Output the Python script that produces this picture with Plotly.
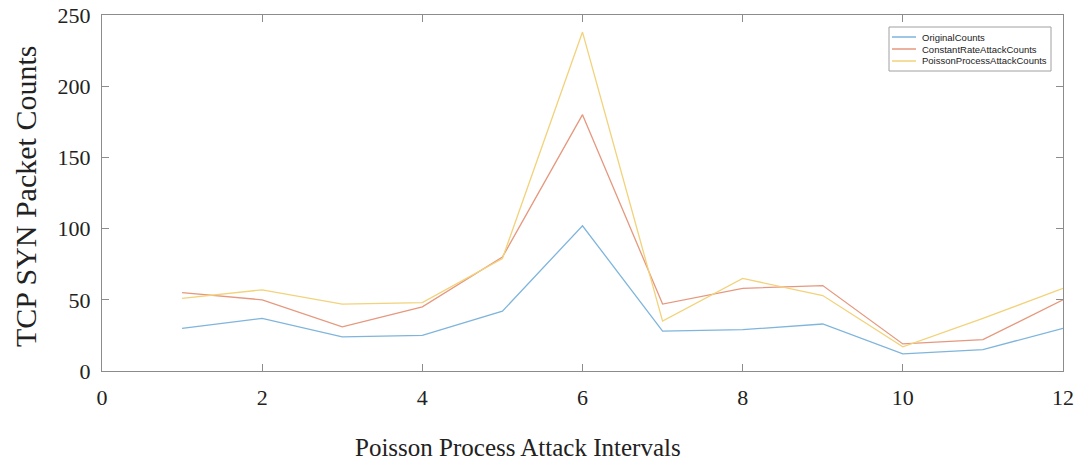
import plotly.graph_objects as go

intervals = [1, 2, 3, 4, 5, 6, 7, 8, 9, 10, 11, 12]
original_counts = [30, 37, 24, 25, 42, 102, 28, 29, 33, 12, 15, 30]
constant_rate_counts = [55, 50, 31, 45, 80, 180, 47, 58, 60, 19, 22, 50]
poisson_process_counts = [51, 57, 47, 48, 79, 238, 35, 65, 53, 17, 37, 58]

series_names = ["OriginalCounts", "ConstantRateAttackCounts", "PoissonProcessAttackCounts"]
colors = ["#7fb5dc", "#e6987e", "#f2d27a"]

W, H = 1077, 464
L, R, T, B = 102, 14, 15, 93
pw, ph = W - L - R, H - T - B


def px(x):
    return (x - L) / pw


def py(y):
    return 1 - (y - T) / ph


fig = go.Figure()
for name, vals, c in zip(series_names, [original_counts, constant_rate_counts, poisson_process_counts], colors):
    fig.add_trace(go.Scatter(x=intervals, y=vals, mode="lines", name=name,
                             line=dict(color=c, width=1.3), showlegend=False))

serif = "Liberation Serif, DejaVu Serif, serif"
axis_common = dict(showline=True, linecolor="#8c8c8c", linewidth=1.2, mirror="ticks",
                   ticks="inside", ticklen=7, tickcolor="#8c8c8c", showgrid=False, zeroline=False,
                   automargin=False, ticklabelstandoff=6,
                   tickfont=dict(family=serif, size=22, color="#222"))

# custom compact legend (box, sample lines, labels)
shapes = [dict(type="rect", xref="paper", yref="paper",
               x0=px(889), x1=px(1051), y0=py(71), y1=py(27),
               line=dict(color="#a0a0a0", width=1), fillcolor="white", layer="above")]
annotations = []
row_y = [37, 49, 61]
for name, c, ry in zip(series_names, colors, row_y):
    shapes.append(dict(type="line", xref="paper", yref="paper",
                       x0=px(892), x1=px(916), y0=py(ry), y1=py(ry),
                       line=dict(color=c, width=1.5), layer="above"))
    annotations.append(dict(xref="paper", yref="paper", x=px(920), y=py(ry),
                            xanchor="left", yanchor="middle", text=name, showarrow=False,
                            font=dict(family="Liberation Sans, Arial, sans-serif", size=9.5, color="#222")))

# axis titles
annotations.append(dict(xref="paper", yref="paper", x=px(518), y=py(463),
                        xanchor="center", yanchor="bottom", showarrow=False,
                        text="Poisson Process Attack Intervals",
                        font=dict(family=serif, size=25, color="#222")))
annotations.append(dict(xref="paper", yref="paper", x=px(25), y=py(197),
                        xanchor="center", yanchor="middle", showarrow=False, textangle=-90,
                        text="TCP SYN Packet Counts",
                        font=dict(family=serif, size=30, color="#222")))

fig.update_layout(
    width=W, height=H,
    margin=dict(l=L, r=R, t=T, b=B),
    paper_bgcolor="white", plot_bgcolor="white",
    xaxis=dict(range=[0, 12], tickvals=[0, 2, 4, 6, 8, 10, 12], **axis_common),
    yaxis=dict(range=[0, 250], tickvals=[0, 50, 100, 150, 200, 250], **axis_common),
    shapes=shapes,
    annotations=annotations,
    showlegend=False,
)

fig.write_html("out.html")
